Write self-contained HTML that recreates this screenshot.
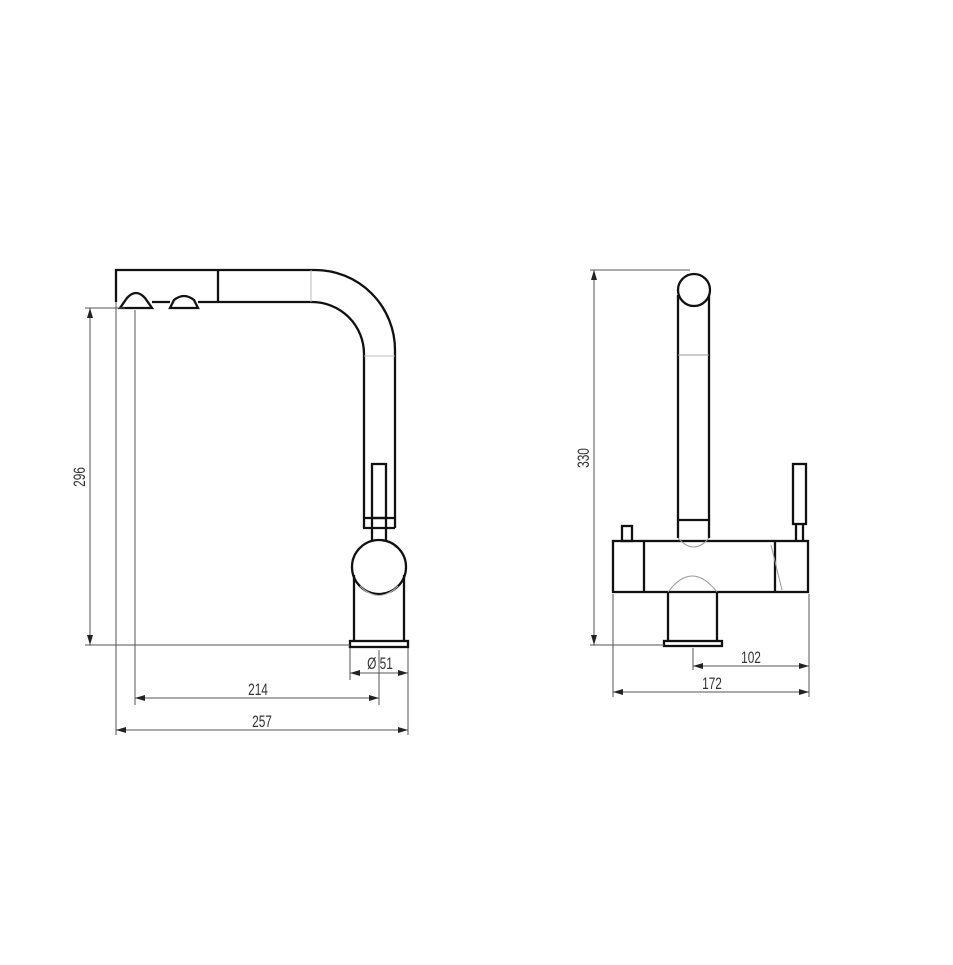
<!DOCTYPE html>
<html><head><style>html,body{margin:0;padding:0;background:#fff}svg{display:block}</style></head>
<body>
<svg width="953" height="965" viewBox="0 0 953 965" xmlns="http://www.w3.org/2000/svg">
<defs>
<marker id="a" viewBox="0 0 10 6" refX="10" refY="3" markerWidth="10" markerHeight="6" orient="auto-start-reverse" markerUnits="userSpaceOnUse"><path d="M0,0 L10,3 L0,6 Z" fill="#222"/></marker>
</defs>
<g font-family="Liberation Sans, sans-serif" font-size="17" fill="#333">
<!-- LEFT VIEW -->
<g fill="none" stroke="#111" stroke-width="2.3">
<path d="M116,302 L116,270 L315,270 A80,80 0 0 1 395,350 L395,528"/>
<path d="M152,302 L170,302 M198,302 L312,302 A52,52 0 0 1 364,354 L364,528"/>
<line x1="218" y1="270" x2="218" y2="302"/>
<path d="M120,308 L127,298 Q136,288 145,298 L152,308 Z"/>
<path d="M170,308 L174,300 Q184,292 194,300 L198,308 Z"/>
<rect x="372" y="464" width="14" height="54"/>
<path d="M363,518 L395,518 M363,528 L395,528 M372,518 L372,541 M386,518 L386,541"/>
<circle cx="379" cy="567" r="27"/>
<path d="M354,575 L354,641 M404,575 L404,641"/>
<rect x="350" y="641" width="58" height="6"/>
</g>
<g fill="none" stroke="#bbb" stroke-width="1">
<line x1="311" y1="270" x2="311" y2="302"/>
<line x1="364" y1="356" x2="395" y2="356"/>
<path d="M360,586 Q379,605 398,586"/>
</g>
<g fill="none" stroke="#555" stroke-width="1">
<line x1="85" y1="645" x2="350" y2="645"/>
<line x1="85" y1="308" x2="125" y2="308"/>
<line x1="116" y1="302" x2="116" y2="735"/>
<line x1="135" y1="310" x2="135" y2="705"/>
<line x1="379" y1="650" x2="379" y2="705"/>
<line x1="408" y1="648" x2="408" y2="735"/>
<line x1="350" y1="648" x2="350" y2="680"/>
<line x1="90" y1="308" x2="90" y2="645" marker-start="url(#a)" marker-end="url(#a)"/>
<line x1="350" y1="673" x2="408" y2="673" marker-start="url(#a)" marker-end="url(#a)"/>
<line x1="135" y1="698" x2="379" y2="698" marker-start="url(#a)" marker-end="url(#a)"/>
<line x1="116" y1="730" x2="408" y2="730" marker-start="url(#a)" marker-end="url(#a)"/>
</g>
<text transform="translate(85,477) rotate(-90) scale(0.7,1)" text-anchor="middle">296</text>
<text transform="translate(380,669) scale(0.7,1)" text-anchor="middle">Ø 51</text>
<text transform="translate(258,695) scale(0.7,1)" text-anchor="middle">214</text>
<text transform="translate(262,727) scale(0.7,1)" text-anchor="middle">257</text>

<!-- RIGHT VIEW -->
<g fill="none" stroke="#111" stroke-width="2.3">
<circle cx="694" cy="290" r="16"/>
<path d="M678,295 L678,538 M709,295 L709,538"/>
<line x1="678" y1="520" x2="709" y2="520"/>
<rect x="613" y="541" width="195" height="51"/>
<line x1="644" y1="541" x2="644" y2="592"/>
<line x1="775" y1="541" x2="775" y2="592"/>
<rect x="622" y="526" width="10" height="15"/>
<rect x="793" y="464" width="13" height="60"/>
<path d="M796,524 L796,541 M803,524 L803,541"/>
<path d="M668,592 L668,641 M717,592 L717,641"/>
<rect x="664" y="641" width="58" height="5"/>
</g>
<g fill="none" stroke="#999" stroke-width="1">
<path d="M678,538 Q694,556 709,538"/>
<path d="M668,592 Q692,560 717,592"/>
<line x1="678" y1="355" x2="709" y2="355"/>
<path d="M771,545 L782,590"/>
</g>
<g fill="none" stroke="#555" stroke-width="1">
<line x1="590" y1="270" x2="690" y2="270"/>
<line x1="590" y1="645" x2="664" y2="645"/>
<line x1="613" y1="594" x2="613" y2="697"/>
<line x1="693" y1="648" x2="693" y2="670"/>
<line x1="809" y1="594" x2="809" y2="697"/>
<line x1="594" y1="270" x2="594" y2="645" marker-start="url(#a)" marker-end="url(#a)"/>
<line x1="693" y1="666" x2="809" y2="666" marker-start="url(#a)" marker-end="url(#a)"/>
<line x1="613" y1="692" x2="809" y2="692" marker-start="url(#a)" marker-end="url(#a)"/>
</g>
<text transform="translate(589,458) rotate(-90) scale(0.7,1)" text-anchor="middle">330</text>
<text transform="translate(751,663) scale(0.7,1)" text-anchor="middle">102</text>
<text transform="translate(712,689) scale(0.7,1)" text-anchor="middle">172</text>
</g>
</svg>
</body></html>
